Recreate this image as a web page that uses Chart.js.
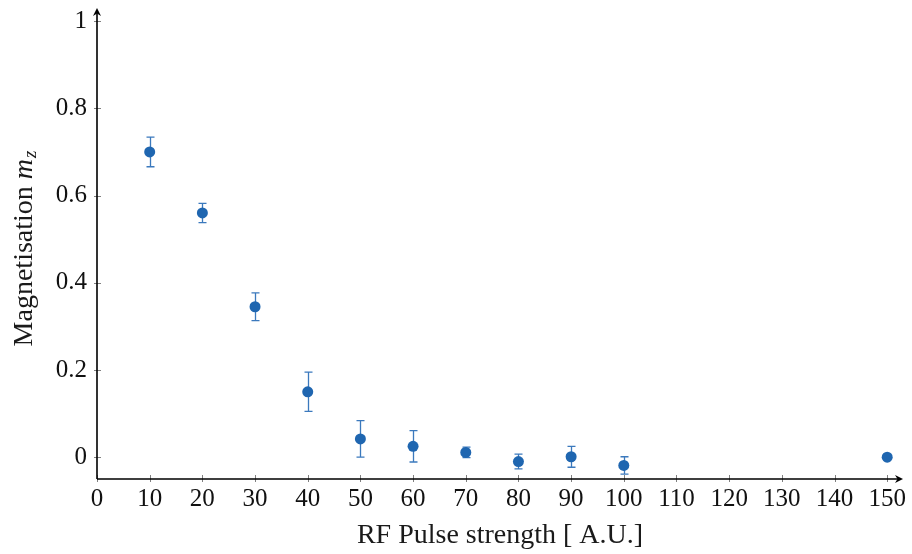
<!DOCTYPE html>
<html>
<head>
<meta charset="utf-8">
<script src="https://cdn.jsdelivr.net/npm/chart.js@4.4.1/dist/chart.umd.min.js"></script>
<style>
  html, body { margin: 0; padding: 0; background: #fff; }
</style>
</head>
<body>
<canvas id="magChart" width="912" height="554"></canvas>
<script>
// data
const pulseStrength = [10, 20, 30, 40, 50, 60, 70, 80, 90, 100, 150];
const magnetisation = [0.700, 0.560, 0.345, 0.150, 0.042, 0.025, 0.011, -0.010, 0.001, -0.019, 0.000];
const errorSize = [0.034, 0.022, 0.032, 0.045, 0.042, 0.036, 0.012, 0.017, 0.024, 0.020, 0];
const xTicks = [0, 10, 20, 30, 40, 50, 60, 70, 80, 90, 100, 110, 120, 130, 140, 150];
const yTicks = [0, 0.2, 0.4, 0.6, 0.8, 1];

const FONT = '"Liberation Serif", "DejaVu Serif", serif';
const POINT_COLOR = '#1f66b0';
const ERR_COLOR = '#3b79bd';

function arrowHead(ctx, tx, ty, dx, dy) {
  // small stealth arrow pointing in direction (dx, dy)
  const len = 8, half = 4, notch = 2.5;
  const px = -dy, py = dx;
  ctx.beginPath();
  ctx.moveTo(tx, ty);
  ctx.lineTo(tx - dx * len + px * half, ty - dy * len + py * half);
  ctx.lineTo(tx - dx * (len - notch), ty - dy * (len - notch));
  ctx.lineTo(tx - dx * len - px * half, ty - dy * len - py * half);
  ctx.closePath();
  ctx.fill();
}

const axesPlugin = {
  id: 'axesAndErrors',
  beforeDatasetsDraw(chart) {
    const { ctx, chartArea: a, scales: { x, y } } = chart;
    ctx.save();

    // tick marks
    ctx.strokeStyle = '#808080';
    ctx.lineWidth = 1;
    xTicks.forEach(v => {
      const px = Math.round(x.getPixelForValue(v)) + 0.5;
      ctx.beginPath();
      ctx.moveTo(px, a.bottom - 4);
      ctx.lineTo(px, a.bottom + 3);
      ctx.stroke();
    });
    yTicks.forEach(v => {
      const py = Math.round(y.getPixelForValue(v)) + 0.5;
      ctx.beginPath();
      ctx.moveTo(a.left - 3, py);
      ctx.lineTo(a.left + 4, py);
      ctx.stroke();
    });

    // axis lines with arrows
    ctx.strokeStyle = '#000';
    ctx.fillStyle = '#000';
    ctx.lineWidth = 1.6;
    ctx.beginPath();
    ctx.moveTo(a.left, a.bottom);
    ctx.lineTo(a.right - 3, a.bottom);
    ctx.moveTo(a.left, a.bottom);
    ctx.lineTo(a.left, a.top + 3);
    ctx.stroke();
    arrowHead(ctx, a.right, a.bottom, 1, 0);
    arrowHead(ctx, a.left, a.top, 0, -1);

    // error bars
    ctx.strokeStyle = ERR_COLOR;
    ctx.lineWidth = 1.3;
    pulseStrength.forEach((xv, i) => {
      const e = errorSize[i];
      if (!e) return;
      const px = Math.round(x.getPixelForValue(xv)) + 0.5;
      const top = y.getPixelForValue(magnetisation[i] + e);
      const bot = y.getPixelForValue(magnetisation[i] - e);
      ctx.beginPath();
      ctx.moveTo(px, top);
      ctx.lineTo(px, bot);
      ctx.moveTo(px - 4, top);
      ctx.lineTo(px + 4, top);
      ctx.moveTo(px - 4, bot);
      ctx.lineTo(px + 4, bot);
      ctx.stroke();
    });
    ctx.restore();
  },
  afterDraw(chart) {
    const { ctx, chartArea: a } = chart;
    ctx.save();
    ctx.fillStyle = '#1a1a1a';
    ctx.textBaseline = 'middle';

    // x title
    ctx.font = '28px ' + FONT;
    ctx.textAlign = 'center';
    ctx.fillText('RF Pulse strength [ A.U.]', (a.left + a.right) / 2, 536);

    // y title: Magnetisation m_z
    ctx.translate(25, 249);
    ctx.rotate(-Math.PI / 2);
    const main = 'Magnetisation ';
    ctx.font = '28px ' + FONT;
    const w1 = ctx.measureText(main).width;
    ctx.font = 'italic 28px ' + FONT;
    const w2 = ctx.measureText('m').width;
    ctx.font = 'italic 19px ' + FONT;
    const w3 = ctx.measureText('z').width;
    let sx = -(w1 + w2 + w3) / 2;
    ctx.textAlign = 'left';
    ctx.font = '28px ' + FONT;
    ctx.fillText(main, sx, 0);
    sx += w1;
    ctx.font = 'italic 28px ' + FONT;
    ctx.fillText('m', sx, 0);
    sx += w2;
    ctx.font = 'italic 19px ' + FONT;
    ctx.fillText('z', sx + 1, 6);
    ctx.restore();
  }
};

const magCanvas = document.getElementById('magChart');
new Chart(magCanvas.getContext('2d'), {
  type: 'scatter',
  data: {
    datasets: [{
      label: 'Magnetisation',
      data: pulseStrength.map((v, i) => ({ x: v, y: magnetisation[i] })),
      backgroundColor: POINT_COLOR,
      borderColor: POINT_COLOR,
      borderWidth: 0,
      pointRadius: 5.5,
      pointHoverRadius: 5.5
    }]
  },
  options: {
    responsive: false,
    animation: false,
    devicePixelRatio: 1,
    layout: { padding: { left: 0, right: 9, top: 8, bottom: 0 } },
    plugins: {
      legend: { display: false },
      tooltip: { enabled: false }
    },
    scales: {
      x: {
        type: 'linear',
        min: 0,
        max: 153,
        grid: { display: false, drawTicks: false },
        border: { display: false },
        afterBuildTicks: s => { s.ticks = xTicks.map(v => ({ value: v })); },
        afterFit: s => { s.height = 75; s.paddingLeft = 0; s.paddingRight = 0; },
        ticks: {
          padding: 5,
          maxRotation: 0,
          color: '#111',
          font: { family: FONT, size: 25 },
          callback: v => String(v)
        }
      },
      y: {
        type: 'linear',
        min: -0.05,
        max: 1.03,
        grid: { display: false, drawTicks: false },
        border: { display: false },
        afterBuildTicks: s => { s.ticks = yTicks.map(v => ({ value: v })); },
        afterFit: s => { s.width = 97; s.paddingTop = 0; s.paddingBottom = 0; },
        ticks: {
          padding: 10,
          color: '#111',
          font: { family: FONT, size: 25 },
          callback: v => String(Math.round(v * 10) / 10)
        }
      }
    }
  },
  plugins: [axesPlugin]
});
</script>
</body>
</html>
